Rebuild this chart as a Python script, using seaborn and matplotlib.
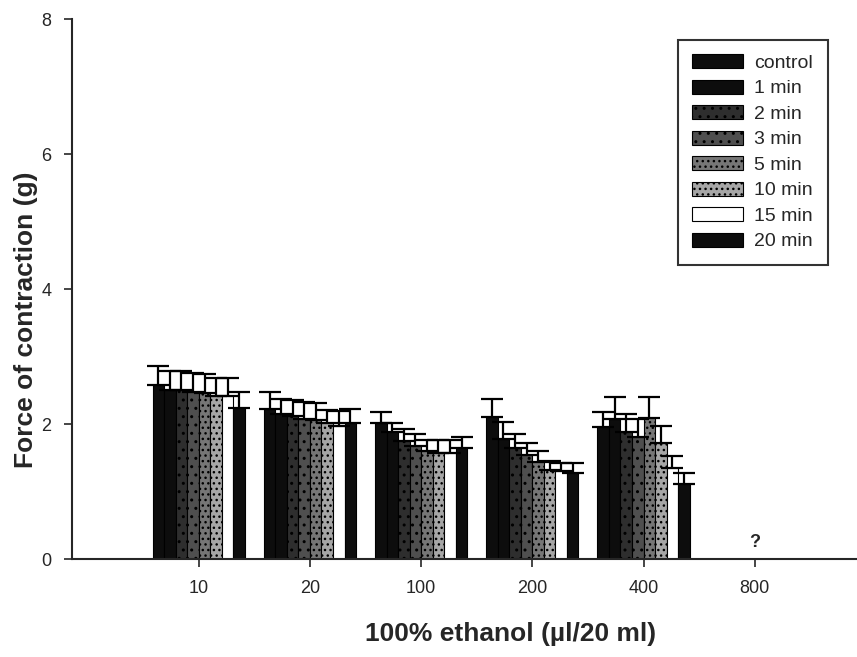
import matplotlib
matplotlib.use("Agg")
import matplotlib.pyplot as plt
import pandas as pd
import seaborn as sns

sns.set_style("ticks")
plt.rcParams['font.family'] = ['Liberation Sans', 'DejaVu Sans']

# doses (µl/20 ml), 800 has no bars (only a "?")
doses = ['10', '20', '100', '200', '400', '800']
times = ['control', '1 min', '2 min', '3 min', '5 min', '10 min', '15 min', '20 min']

# mean force (g) per dose, one value per time point
force_10 = [2.58, 2.51, 2.50, 2.48, 2.46, 2.41, 2.42, 2.24]
force_20 = [2.23, 2.15, 2.12, 2.07, 2.06, 2.01, 1.97, 2.01]
force_100 = [2.01, 1.88, 1.75, 1.67, 1.60, 1.57, 1.57, 1.65]
force_200 = [2.10, 1.78, 1.64, 1.54, 1.44, 1.32, 1.30, 1.28]
force_400 = [1.96, 2.08, 1.88, 1.81, 2.09, 1.72, 1.35, 1.11]

# upper error (SEM)
err_10 = [0.28, 0.28, 0.28, 0.28, 0.28, 0.28, 0.26, 0.24]
err_20 = [0.24, 0.22, 0.23, 0.25, 0.25, 0.20, 0.23, 0.21]
err_100 = [0.17, 0.14, 0.17, 0.19, 0.16, 0.19, 0.19, 0.16]
err_200 = [0.27, 0.25, 0.22, 0.18, 0.16, 0.13, 0.13, 0.15]
err_400 = [0.22, 0.32, 0.27, 0.27, 0.31, 0.25, 0.18, 0.16]

forces = [force_10, force_20, force_100, force_200, force_400]
errs = [err_10, err_20, err_100, err_200, err_400]

rows = []
for d, f_list, e_list in zip(doses[:5], forces, errs):
    for t, f, e in zip(times, f_list, e_list):
        rows.append({'dose': d, 'time': t, 'force': f, 'err': e})
df = pd.DataFrame(rows)

colors = ['#0d0d0d', '#0d0d0d', '#2e2e2e', '#4f4f4f', '#767676', '#a6a6a6', 'white', '#0d0d0d']
hatches = ['', '', '..', '..', '...', '...', '', '']

fig = plt.figure(figsize=(8.57, 6.57), dpi=100)
ax = fig.add_axes([0.084, 0.149, 0.916, 0.822])

sns.barplot(data=df, x='dose', y='force', hue='time', order=doses, hue_order=times,
            palette=colors, errorbar=None, width=0.83, edgecolor='black',
            linewidth=0.8, saturation=1, ax=ax)

bar_containers = list(ax.containers)

# one-sided error bars on top of each bar
for i, cont in enumerate(bar_containers):
    t = times[i]
    for bar in cont.patches:
        bar.set_hatch(hatches[i])
        xc = bar.get_x() + bar.get_width() / 2
        d = doses[int(round(xc))]
        e = df[(df.dose == d) & (df.time == t)]['err'].values[0]
        ax.errorbar(xc, bar.get_height(), yerr=[[0], [e]], fmt='none',
                    ecolor='black', elinewidth=1.6, capsize=8, capthick=1.6)

ax.text(5, 0.12, '?', ha='center', va='bottom', fontsize=13, fontweight='bold')

ax.set_ylim(0, 8)
ax.set_yticks([0, 2, 4, 6, 8])
ax.set_xlim(-1.14, 5.92)
ax.tick_params(axis='both', labelsize=13, length=6, width=1.2, pad=9)
ax.set_ylabel('Force of contraction (g)', fontsize=19, fontweight='bold')
ax.set_xlabel('100% ethanol (\u00b5l/20 ml)', fontsize=19, fontweight='bold')
ax.yaxis.set_label_coords(-0.043, 0.443)
ax.xaxis.set_label_coords(0.559, -0.117)

for s in ['left', 'bottom']:
    ax.spines[s].set_linewidth(1.5)
sns.despine(ax=ax)

handles = [c.patches[0] for c in bar_containers]
leg = ax.legend(handles, times, loc='upper right', bbox_to_anchor=(0.975, 0.98),
                fontsize=14, frameon=True, fancybox=False, edgecolor='black',
                handlelength=2.6, handleheight=0.72, labelspacing=0.4,
                borderpad=0.75, handletextpad=0.6)
leg.get_frame().set_linewidth(1.5)

fig.savefig('out.png', dpi=100)
